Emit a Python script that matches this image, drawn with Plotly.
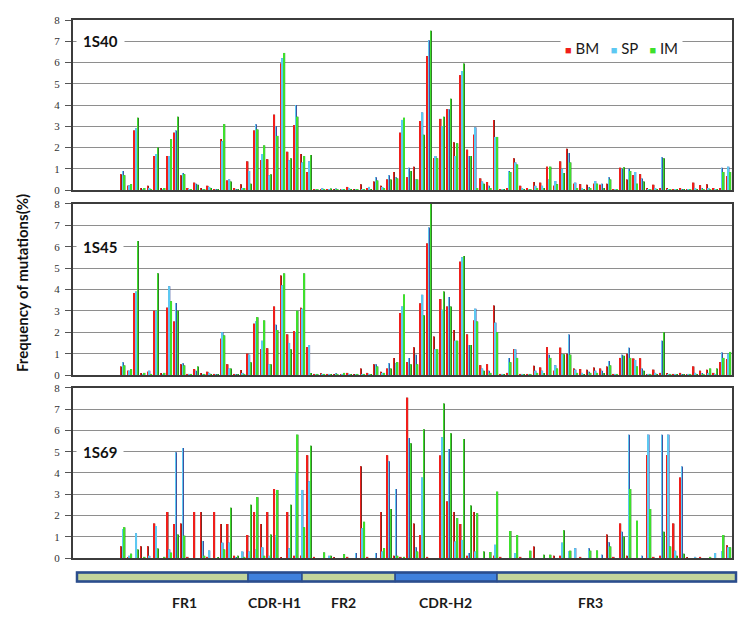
import plotly.graph_objects as go
from plotly.subplots import make_subplots

# residue positions along the VH sequence
positions = list(range(1, 100))

# ---- 1S40 ----
bm_1s40 = [0, 0, 0, 0, 0, 0, 0, 0.75, 0.2, 2.8,
           0.1, 0.2, 1.6, 0.1, 1.6, 2.7, 0.7, 0.1, 0.35, 0.1,
           0.2, 0.05, 2.4, 0.45, 0.1, 0.28, 1.35, 2.8, 1.4, 1.45,
           3.55, 5.95, 1.8, 3.05, 1.7, 0.85, 0.05, 0.05, 0.05, 0.05,
           0.05, 0.15, 0.05, 0.28, 0.1, 0.4, 0.2, 0.5, 0.85, 2.7,
           0.6, 1.1, 3.25, 6.3, 1.5, 3.35, 3.8, 2.25, 5.4, 1.9,
           2.6, 0.55, 0.38, 3.3, 0.05, 0.1, 1.5, 0.2, 0.1, 0.38,
           0.35, 1.1, 0.2, 1.35, 1.95, 0.3, 0.28, 0.25, 0.3, 0.25,
           0.3, 0.05, 1.05, 0.5, 0.7, 0.75, 0.1, 0.25, 0.1, 0.1,
           0.05, 0.1, 0.05, 0.35, 0.23, 0.28, 0.1, 0.1, 0.65]
sp_1s40 = [0, 0, 0, 0, 0, 0, 0, 0.9, 0.22, 2.9,
           0.05, 0.1, 1.7, 0.05, 1.6, 2.8, 0.8, 0.05, 0.3, 0.05,
           0.15, 0.05, 2.3, 0.5, 0.05, 0.1, 0.9, 3.1, 1.7, 0.7,
           3.0, 6.2, 1.4, 4.0, 1.3, 1.35, 0.05, 0.08, 0.05, 0.08,
           0.05, 0.1, 0.05, 0.05, 0.15, 0.6, 0.15, 0.7, 0.6, 3.3,
           1.05, 0.5, 3.65, 7.05, 1.6, 3.0, 3.8, 1.6, 5.6, 1.6,
           2.95, 0.4, 0.2, 2.5, 0.05, 0.9, 1.3, 0.1, 0.05, 0.2,
           0.2, 0.5, 0.43, 1.0, 1.75, 0.35, 0.1, 0.15, 0.43, 0.3,
           0.6, 0.05, 1.0, 1.0, 0.85, 0.55, 0.05, 0.1, 1.55, 0.05,
           0.05, 0.05, 0.05, 0.1, 0.1, 0.1, 0.05, 1.05, 1.1]
im_1s40 = [0, 0, 0, 0, 0, 0, 0, 0.7, 0.28, 3.4,
           0.1, 0.05, 2.0, 0.1, 2.4, 3.45, 0.75, 0.05, 0.25, 0.05,
           0.1, 0.05, 3.1, 0.4, 0.05, 0.1, 0.3, 2.85, 2.1, 0.75,
           2.55, 6.45, 1.5, 3.45, 1.6, 1.65, 0.05, 0.05, 0.08, 0.05,
           0.05, 0.05, 0.05, 0.05, 0.05, 0.45, 0.1, 0.5, 0.55, 3.4,
           0.9, 0.5, 2.6, 7.5, 1.5, 3.45, 4.3, 2.2, 5.95, 1.6,
           0.1, 0.3, 0.1, 2.5, 0.05, 0.85, 1.2, 0.05, 0.05, 0.1,
           0.1, 1.1, 0.28, 0.8, 1.3, 0.1, 0.05, 0.1, 0.3, 0.1,
           0.5, 0.05, 1.08, 0.9, 0.3, 0.4, 0.05, 0.05, 1.5, 0.05,
           0.05, 0.05, 0.05, 0.05, 0.05, 0.05, 0.05, 0.85, 0.85]

# ---- 1S45 ----
bm_1s45 = [0, 0, 0, 0, 0, 0, 0, 0.4, 0.2, 3.83,
           0.1, 0.15, 3.0, 0.1, 3.15, 2.5, 0.5, 0.05, 0.28, 0.1,
           0.15, 0.05, 1.7, 0.5, 0.05, 0.23, 1.0, 2.4, 1.2, 1.25,
           3.2, 4.65, 1.9, 2.05, 3.15, 1.3, 0.05, 0.08, 0.05, 0.05,
           0.05, 0.1, 0.05, 0.3, 0.1, 0.5, 0.15, 0.3, 0.8, 2.9,
           0.6, 1.3, 3.35, 6.15, 1.8, 3.55, 3.2, 2.1, 5.3, 1.9,
           2.55, 0.46, 0.5, 3.25, 0.05, 0.1, 1.2, 0.05, 0.05, 0.43,
           0.35, 1.3, 0.2, 1.28, 1.0, 0.3, 0.28, 0.25, 0.35, 0.3,
           0.4, 0.05, 0.8, 1.0, 0.77, 0.78, 0.05, 0.25, 0.1, 0.1,
           0.05, 0.1, 0.05, 0.4, 0.2, 0.25, 0.1, 0.6, 0.75]
sp_1s45 = [0, 0, 0, 0, 0, 0, 0, 0.6, 0.2, 3.9,
           0.05, 0.2, 3.0, 0.05, 4.15, 3.37, 0.55, 0.05, 0.2, 0.05,
           0.1, 0.05, 2.0, 0.3, 0.05, 0.1, 0.95, 2.5, 1.6, 0.5,
           2.35, 4.2, 1.5, 2.0, 3.1, 1.4, 0.05, 0.05, 0.05, 0.08,
           0.05, 0.05, 0.05, 0.05, 0.05, 0.5, 0.1, 0.55, 0.55, 3.2,
           0.8, 0.95, 3.75, 6.9, 1.2, 3.05, 3.65, 1.6, 5.5, 1.4,
           3.1, 0.3, 0.2, 2.45, 0.05, 0.8, 1.2, 0.05, 0.05, 0.2,
           0.2, 0.95, 0.46, 0.97, 1.9, 0.25, 0.1, 0.15, 0.2, 0.2,
           0.65, 0.05, 0.95, 1.28, 0.7, 0.3, 0.05, 0.1, 1.6, 0.05,
           0.05, 0.05, 0.05, 0.1, 0.1, 0.1, 0.05, 1.05, 1.0]
im_1s45 = [0, 0, 0, 0, 0, 0, 0, 0.45, 0.28, 6.27,
           0.1, 0.05, 4.76, 0.1, 3.45, 3.0, 0.45, 0.05, 0.4, 0.05,
           0.05, 0.05, 1.85, 0.3, 0.05, 0.05, 0.6, 2.7, 2.55, 0.5,
           2.1, 4.75, 1.2, 3.0, 4.75, 0.1, 0.05, 0.05, 0.05, 0.05,
           0.1, 0.05, 0.05, 0.05, 0.05, 0.4, 0.1, 0.3, 0.6, 3.76,
           0.5, 0.5, 2.8, 8.0, 1.2, 3.9, 3.2, 1.6, 5.56, 1.4,
           2.5, 0.2, 0.1, 2.0, 0.05, 0.6, 0.8, 0.05, 0.05, 0.1,
           0.1, 0.8, 0.3, 0.97, 0.95, 0.1, 0.05, 0.1, 0.1, 0.1,
           0.45, 0.05, 0.9, 0.8, 0.4, 0.2, 0.05, 0.05, 2.0, 0.05,
           0.05, 0.05, 0.05, 0.05, 0.05, 0.3, 0.3, 0.8, 1.08]

# ---- 1S69 ----
bm_1s69 = [0, 0, 0, 0, 0, 0, 0, 0.55, 0.05, 0,
           0.55, 0.55, 1.62, 0, 2.16, 1.6, 1.62, 0.05, 2.16, 2.16,
           0.05, 2.16, 1.6, 1.6, 0.1, 0, 1.08, 2.16, 1.6, 2.16,
           3.24, 0.05, 2.16, 0.1, 0.1, 4.83, 0.05, 0, 0, 0.05,
           0, 0.05, 0, 4.32, 0.05, 0, 2.16, 4.83, 0.1, 0.05,
           7.54, 1.62, 1.08, 0.05, 0, 4.82, 2.66, 2.16, 1.6, 0.1,
           2.16, 0, 0, 0.1, 0.05, 0, 0, 0.05, 0, 0.54,
           0, 0, 0.1, 0.1, 0, 0, 0.05, 0, 0, 0,
           1.1, 0.05, 1.62, 0.1, 0, 0, 4.83, 0.05, 0.1, 4.83,
           1.62, 3.78, 0.05, 0, 0.05, 0, 0, 0, 0.6]
sp_1s69 = [0, 0, 0, 0, 0, 0, 0, 1.36, 0.1, 1.16,
           0, 0.1, 1.5, 0, 0.4, 4.97, 5.17, 0, 0, 0.8,
           0.35, 0, 0.72, 0.72, 0.05, 0.3, 0.3, 0.4, 0.5, 0.1,
           1.08, 0, 0.46, 4.0, 3.2, 3.6, 0, 0, 0.1, 0,
           0, 0, 0.23, 1.4, 0, 0.23, 0.3, 4.55, 3.24, 0,
           5.64, 0.5, 3.78, 0, 0, 5.67, 5.13, 0.77, 0.85, 0.23,
           0.3, 0, 0, 0.62, 0, 0, 0.23, 0, 0, 0,
           0, 0, 0, 0.72, 0.3, 0.46, 0, 0.46, 0, 0.15,
           0.74, 0, 1.24, 5.8, 0, 0.1, 5.8, 0, 5.8, 5.8,
           0.34, 4.3, 0, 0.05, 0, 0, 0.23, 0.3, 0.5]
im_1s69 = [0, 0, 0, 0, 0, 0, 0, 1.44, 0.2, 0.4,
           0.05, 0, 0.45, 0.05, 0.25, 1.1, 1.05, 0, 0, 0.1,
           0, 0.05, 0.4, 2.36, 0.1, 0.05, 2.5, 2.86, 0.1, 1.1,
           3.2, 0, 2.5, 5.8, 1.44, 5.28, 0, 0.26, 0.1, 0,
           0.18, 0, 0, 1.7, 0, 0, 0.46, 2.3, 0.1, 0.05,
           5.4, 0.3, 6.05, 0, 0, 7.26, 5.87, 1.88, 5.6, 2.47,
           2.1, 0.3, 0.28, 3.12, 0, 1.27, 1.08, 0, 0.34, 0,
           0.15, 0.15, 0, 1.31, 0.34, 0, 0, 0.34, 0.35, 0,
           0.54, 0, 1.0, 3.24, 1.75, 0, 2.3, 0, 1.24, 0.54,
           0.1, 0.2, 0, 0, 0, 0.05, 0, 1.08, 0.5]

samples = ['1S40', '1S45', '1S69']
series_names = ['BM', 'SP', 'IM']
series_colors = ['#f01e1a', '#5cc8f2', '#3ee02c']   # bright face / legend
series_shade = ['#7c2922', '#41529f', '#327e27']    # darker side of the 3-D columns

data = {
    '1S40': [bm_1s40, sp_1s40, im_1s40],
    '1S45': [bm_1s45, sp_1s45, im_1s45],
    '1S69': [bm_1s69, sp_1s69, im_1s69],
}

# framework / CDR regions (residue positions where each block starts and ends)
region_names = ['FR1', 'CDR-H1', 'FR2', 'CDR-H2', 'FR3']
region_edges = [1.1, 26.8, 34.9, 48.9, 64.2, 100.1]
region_label_pos = [17.3, 30.8, 41.2, 56.4, 78.3]
region_colors = ['#c3d59c', '#3f80dc', '#c3d59c', '#3f80dc', '#c3d59c']

fig = make_subplots(rows=3, cols=1, shared_xaxes=True)

bar_offsets = [-0.38, -0.12, 0.14]
for row, s in enumerate(samples, start=1):
    for k in range(3):
        # dark body of the column
        fig.add_trace(go.Bar(
            x=positions, y=data[s][k], name=series_names[k],
            offset=bar_offsets[k], width=0.24,
            marker=dict(color=series_shade[k], line=dict(width=0)),
            showlegend=False,
        ), row=row, col=1)
        # bright front edge
        fig.add_trace(go.Bar(
            x=positions, y=data[s][k], name=series_names[k],
            offset=bar_offsets[k], width=0.09,
            marker=dict(color=series_colors[k], line=dict(width=0)),
            showlegend=False,
        ), row=row, col=1)

x_lo, x_hi = 0.5, 99.5

def to_paper(p):
    return (p - x_lo) / (x_hi - x_lo)

domains = [[0.6838, 1.0], [0.3401, 0.6581], [0.0, 0.3162]]
label_levels = [7, 6, 5]
for row in range(1, 4):
    yname = 'yaxis' if row == 1 else 'yaxis%d' % row
    xname = 'xaxis' if row == 1 else 'xaxis%d' % row
    fig.layout[yname].update(
        domain=domains[row - 1], range=[0, 8], dtick=1,
        showgrid=True, gridcolor='#8e8e8e', gridwidth=1.4,
        showline=True, mirror=True, linecolor='#3c3c3c', linewidth=2,
        ticks='outside', ticklen=6, tickcolor='#555', tickwidth=1,
        ticklabelstandoff=3,
        tickfont=dict(family='Liberation Serif', size=11, color='#333'),
        zeroline=False,
    )
    fig.layout[xname].update(
        range=[x_lo, x_hi], showticklabels=False, showgrid=False,
        showline=True, mirror=True, linecolor='#3c3c3c', linewidth=2,
        ticks='', zeroline=False,
    )
    yref = 'y' if row == 1 else 'y%d' % row
    fig.add_annotation(
        x=0.004, xref='paper', xanchor='left',
        y=label_levels[row - 1], yref=yref, yanchor='middle',
        text='<b>%s</b>' % samples[row - 1], showarrow=False,
        font=dict(family='Lato', size=15, color='#111'),
        bgcolor='white', borderpad=6,
    )

# legend drawn as a text box inside the top panel
legend_text = '   '.join(
    "<span style='color:%s;font-size:11px'>■</span> %s" % (c, n)
    for c, n in zip(series_colors, series_names))
fig.add_annotation(
    x=0.8316, y=0.9485, xref='paper', yref='paper',
    xanchor='center', yanchor='middle',
    text=legend_text, showarrow=False,
    font=dict(family='Lato', size=15, color='#1a1a1a'),
    bgcolor='white', borderpad=4,
)

# region bar under the chart
bar_top, bar_bot = -0.027, -0.0436
for i, name in enumerate(region_names):
    fig.add_shape(
        type='rect', xref='paper', yref='paper',
        x0=to_paper(region_edges[i]), x1=to_paper(region_edges[i + 1]),
        y0=bar_bot, y1=bar_top,
        fillcolor=region_colors[i], line=dict(color='#2b4d8d', width=1.5),
    )
    fig.add_annotation(
        x=to_paper(region_label_pos[i]), y=-0.083, xref='paper', yref='paper',
        xanchor='center', yanchor='middle',
        text='<b>%s</b>' % name, showarrow=False,
        font=dict(family='Lato', size=14, color='#1a1a1a'),
    )
fig.add_shape(
    type='rect', xref='paper', yref='paper',
    x0=to_paper(region_edges[0]), x1=to_paper(region_edges[-1]),
    y0=bar_bot, y1=bar_top, line=dict(color='#2b4d8d', width=2.5),
)

fig.add_annotation(
    x=-0.0774, y=0.511, xref='paper', yref='paper', textangle=-90,
    xanchor='center', yanchor='middle',
    text='<b>Frequency of mutations(%)</b>', showarrow=False,
    font=dict(family='Lato', size=15, color='#111'),
)

# the page body adds an 8px margin, so the figure is drawn 8px smaller
fig.update_layout(
    width=742, height=611,
    margin=dict(l=65, r=18, t=6, b=61),
    barmode='overlay',
    plot_bgcolor='white', paper_bgcolor='white',
    showlegend=False,
)

fig.write_html("out.html")
